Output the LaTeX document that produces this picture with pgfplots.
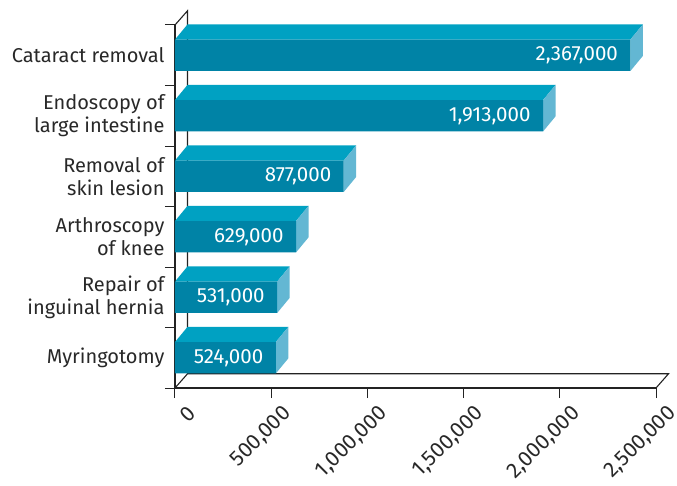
\documentclass[border=0pt]{standalone}
\usepackage{fontspec}
\setmainfont{Fira Sans}
\usepackage{pgfplots}
\pgfplotsset{compat=1.18}
\definecolor{frontc}{RGB}{0,131,166}
\definecolor{topc}{RGB}{0,161,194}
\definecolor{sidec}{RGB}{99,183,211}
\definecolor{txt}{RGB}{40,40,40}
\definecolor{axc}{RGB}{35,35,35}
\begin{document}
\begin{tikzpicture}[x=1pt,y=1pt]
\useasboundingbox (0,0) rectangle (677,485);
\begin{axis}[
  at={(175pt,97pt)}, anchor=south west,
  scale only axis, width=481pt, height=363pt,
  xmin=0, xmax=2500000, ymin=-0.5, ymax=5.5,
  clip=false,
  axis x line*=bottom, axis y line*=left,
  axis line style={draw=axc, line width=1.1pt, -},
  tick align=outside,
  major tick length=10pt,
  tick style={draw=axc, line width=1pt},
  xtick={0,500000,1000000,1500000,2000000,2500000},
  scaled x ticks=false,
  xticklabel style={rotate=45, anchor=east, inner sep=0pt, xshift=3.5pt, yshift=-20.5pt,
    font=\fontsize{21.5}{25}\selectfont, text=txt},
  xticklabel={\pgfmathprintnumber[fixed,precision=0,1000 sep={,},assume math mode=true]{\tick}},
  ytick={-0.5,0.5,1.5,2.5,3.5,4.5,5.5},
  yticklabels={},
  extra y ticks={0,1,2,3,4,5},
  extra y tick labels={Myringotomy, {Repair of\\inguinal hernia}, {Arthroscopy\\of knee}, {Removal of\\skin lesion}, {Endoscopy of\\large intestine}, Cataract removal},
  extra y tick style={major tick length=0pt, tick style={draw=none},
    yticklabel style={align=right, xshift=-7pt, font=\fontsize{20}{23}\selectfont, text=txt}},
]
% 3D frame
\draw[axc, line width=1.1pt] (axis cs:0,5.5) -- (axis cs:65000,5.735) -- (axis cs:65000,-0.265);
\draw[axc, line width=1.1pt] (axis cs:0,-0.5) -- (axis cs:65000,-0.265) -- (axis cs:2565000,-0.265) -- (axis cs:2500000,-0.5);

% top faces
\addplot[fill=topc, draw=none] coordinates {(0,5.26) (2367000,5.26) (2432000,5.51) (65000,5.51)} -- cycle;
\addplot[fill=topc, draw=none] coordinates {(0,4.26) (1913000,4.26) (1978000,4.51) (65000,4.51)} -- cycle;
\addplot[fill=topc, draw=none] coordinates {(0,3.26) (877000,3.26) (942000,3.51) (65000,3.51)} -- cycle;
\addplot[fill=topc, draw=none] coordinates {(0,2.26) (629000,2.26) (694000,2.51) (65000,2.51)} -- cycle;
\addplot[fill=topc, draw=none] coordinates {(0,1.26) (531000,1.26) (596000,1.51) (65000,1.51)} -- cycle;
\addplot[fill=topc, draw=none] coordinates {(0,0.26) (524000,0.26) (589000,0.51) (65000,0.51)} -- cycle;
% side faces
\addplot[fill=sidec, draw=none] coordinates {(2367000,4.74) (2367000,5.26) (2432000,5.51) (2432000,4.99)} -- cycle;
\addplot[fill=sidec, draw=none] coordinates {(1913000,3.74) (1913000,4.26) (1978000,4.51) (1978000,3.99)} -- cycle;
\addplot[fill=sidec, draw=none] coordinates {(877000,2.74) (877000,3.26) (942000,3.51) (942000,2.99)} -- cycle;
\addplot[fill=sidec, draw=none] coordinates {(629000,1.74) (629000,2.26) (694000,2.51) (694000,1.99)} -- cycle;
\addplot[fill=sidec, draw=none] coordinates {(531000,0.74) (531000,1.26) (596000,1.51) (596000,0.99)} -- cycle;
\addplot[fill=sidec, draw=none] coordinates {(524000,-0.26) (524000,0.26) (589000,0.51) (589000,-0.01)} -- cycle;
% front faces
\addplot[xbar, bar width=31.2pt, fill=frontc, draw=none, bar shift=0pt,
  point meta=x,
  nodes near coords={\pgfmathprintnumber[fixed,precision=0,1000 sep={,},assume math mode=true]{\pgfplotspointmeta}},
  every node near coord/.append style={anchor=east, xshift=-9pt, text=white,
     font=\fontsize{20.5}{24}\selectfont}]
  coordinates {(524000,0) (531000,1) (629000,2) (877000,3) (1913000,4) (2367000,5)};
\end{axis}
\end{tikzpicture}
\end{document}
